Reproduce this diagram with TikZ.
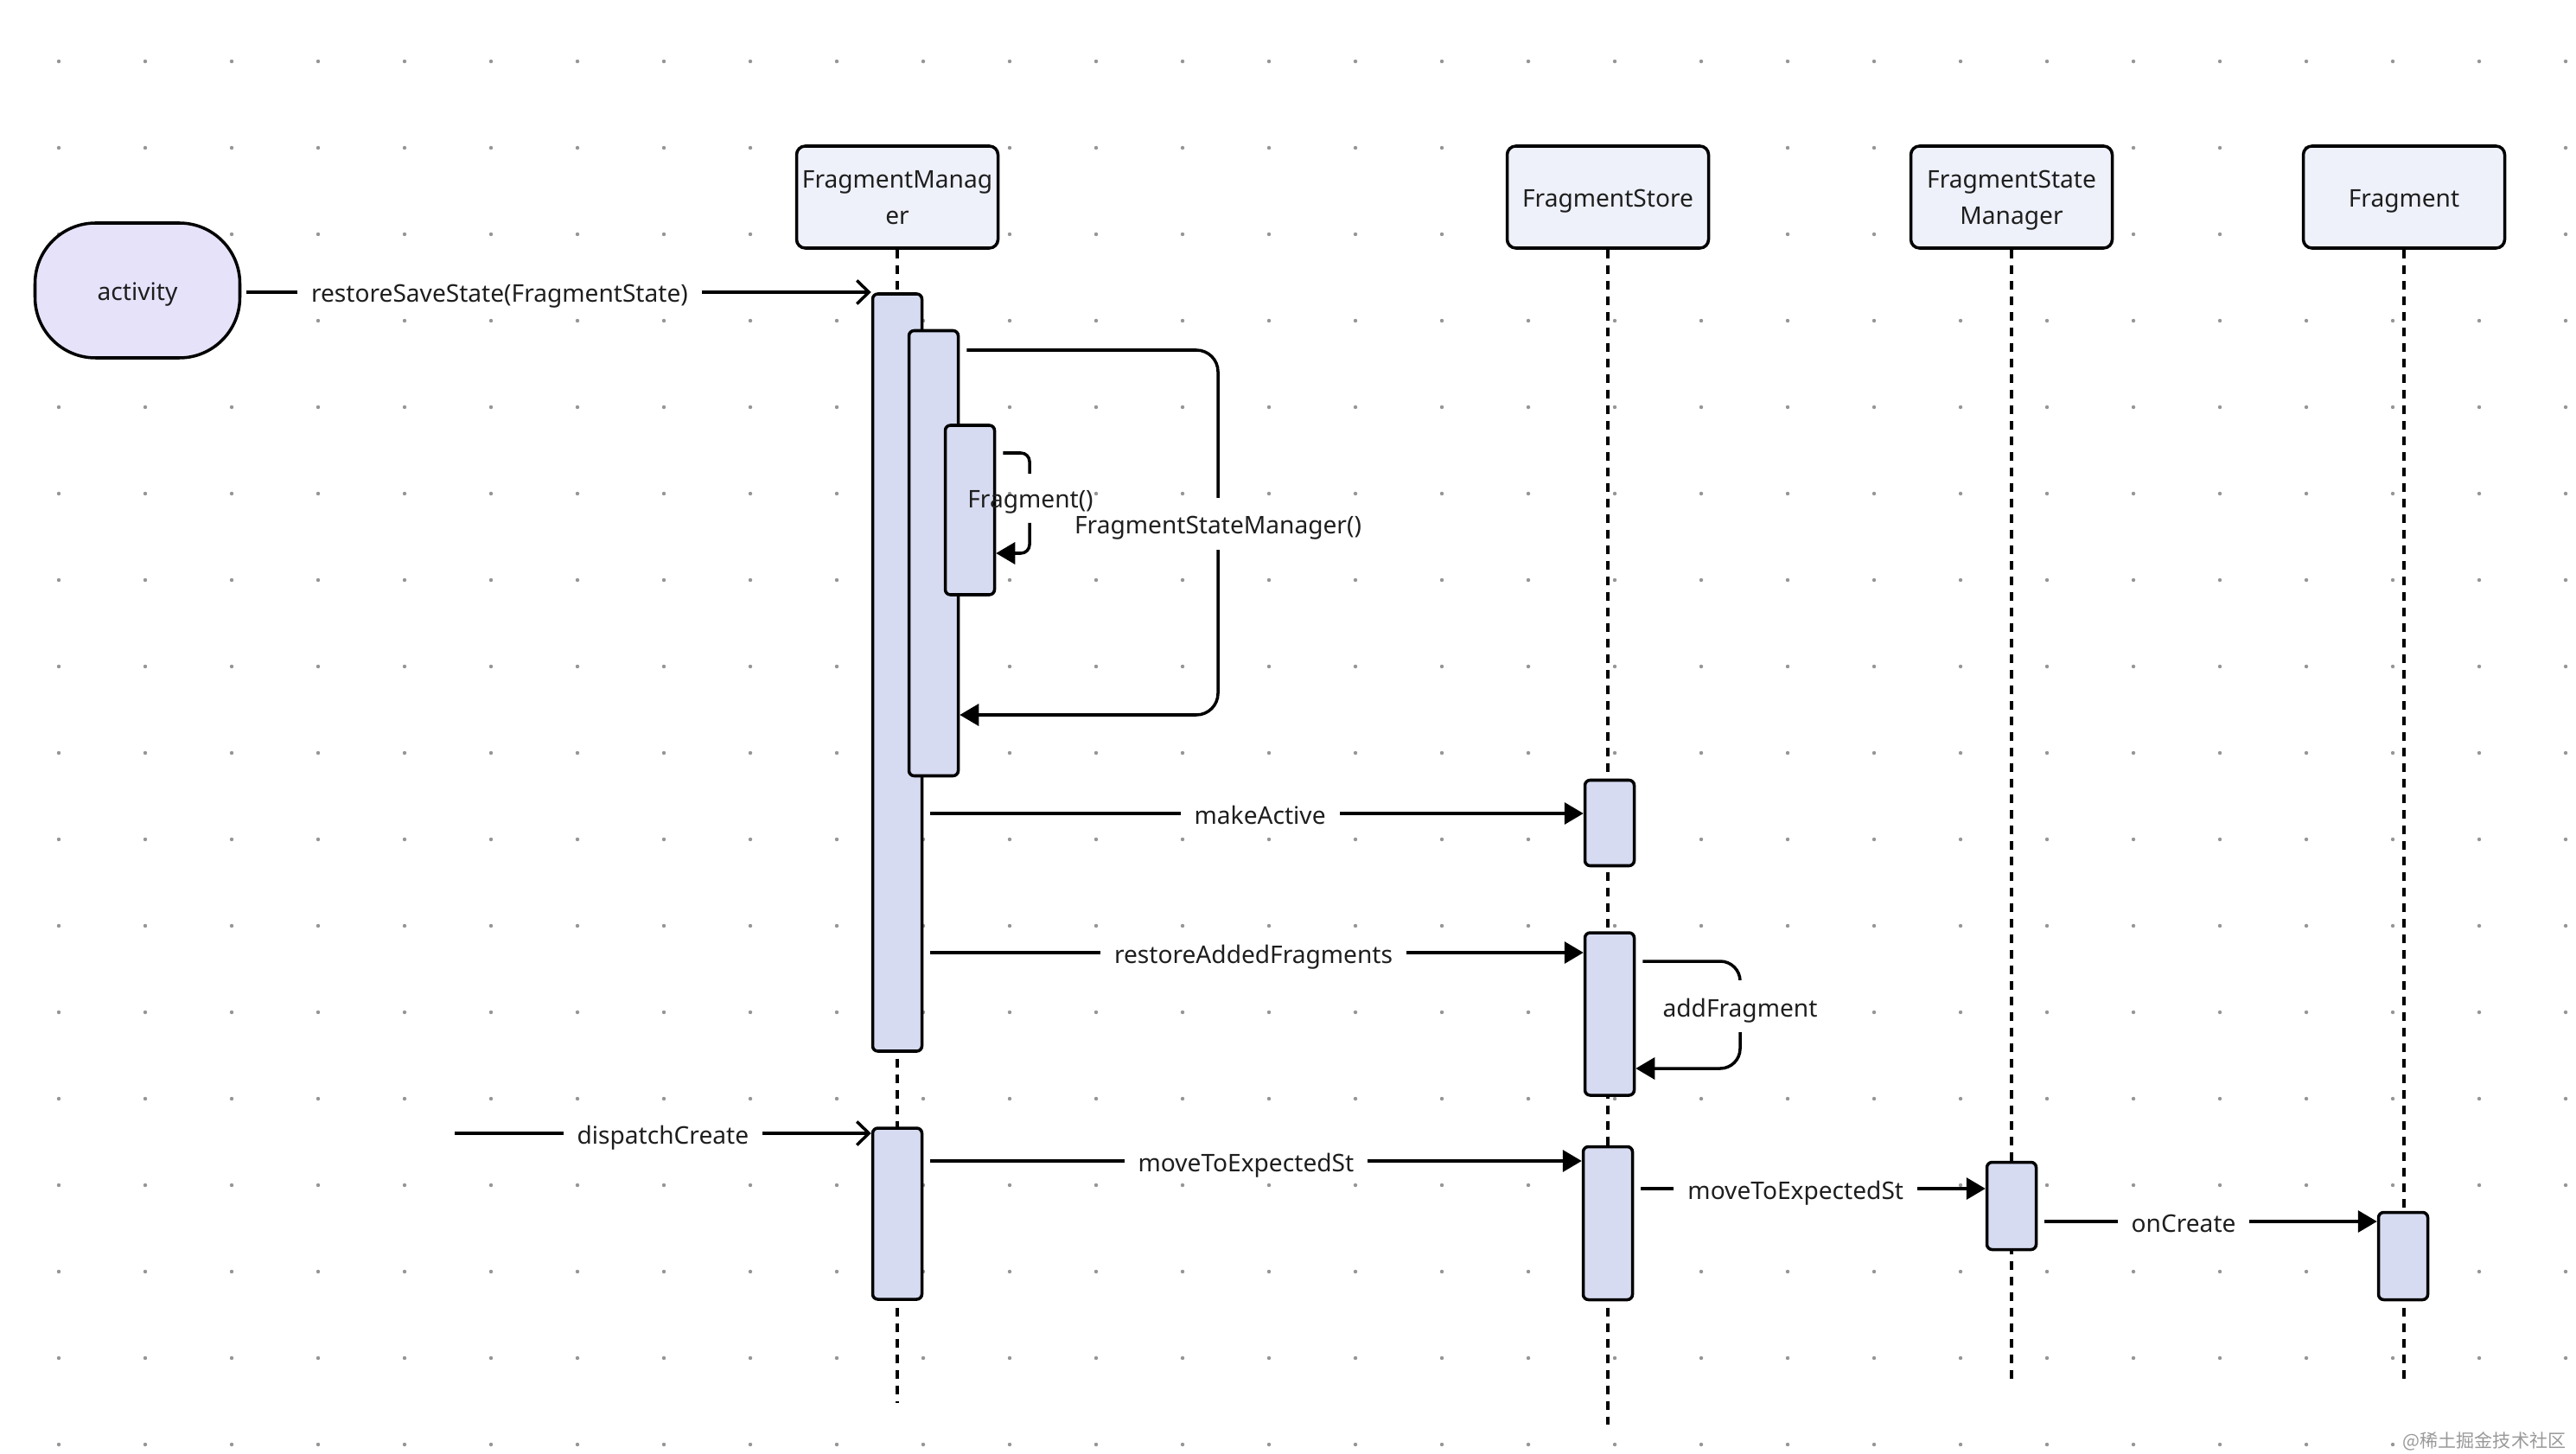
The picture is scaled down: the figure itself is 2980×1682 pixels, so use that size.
\documentclass[tikz,border=0pt]{standalone}
\usepackage{fontspec}
\setmainfont{Noto Sans}
\newfontfamily\cjkfont{Noto Sans CJK SC}
\usetikzlibrary{arrows.meta,positioning,calc}
\definecolor{actfill}{RGB}{214,219,241}
\definecolor{headfill}{RGB}{238,241,250}
\definecolor{actorfill}{RGB}{230,226,250}
\definecolor{gridgray}{RGB}{150,150,150}
\definecolor{inkdark}{RGB}{30,30,30}

\begin{document}
\begin{tikzpicture}[x=0.1mm,y=-0.1mm,
  every node/.style={font=\fontsize{8}{12}\selectfont, text=inkdark, text height=3.2mm, text depth=0.8mm},
  head/.style={draw, line width=1pt, fill=headfill, rounded corners=1mm, minimum width=23.3mm, minimum height=11.8mm, align=center, inner sep=0pt},
  twoline/.style={text height=7.4mm, text depth=1mm},
  actor/.style={draw, line width=1pt, fill=actorfill, rounded corners=7mm, minimum width=23.7mm, minimum height=15.6mm},
  act/.style={draw, line width=1pt, fill=actfill, rounded corners=0.6mm, minimum width=5.7mm, inner sep=0pt},
  life/.style={line width=0.9pt, dash pattern=on 1mm off 0.8mm},
  sync/.style={line width=1pt, -{Triangle[length=2.2mm,width=2.5mm]}},
  async/.style={line width=1pt, -{Straight Barb[length=1.4mm,width=2.7mm]}},
  lbl/.style={fill=white, inner xsep=1.6mm, inner ysep=0.3mm}]
% page and dot grid
\fill[white] (0,0) rectangle (2980,1682);
\useasboundingbox (0,0) rectangle (2980,1682);
\foreach \gx in {68,168,...,2968}
  \foreach \gy in {71,171,...,1671}
    \fill[gridgray] (\gx,\gy) circle (0.22mm);

% lifeline heads
\node[head, twoline] (fm) at (1038,228) {FragmentManag\\er};
\node[head] (fs) at (1860,228) {FragmentStore};
\node[head, twoline] (fsm) at (2327,228) {FragmentState\\Manager};
\node[head] (frag) at (2781,228) {Fragment};
% lifelines
\draw[life] (fm.south) -- (fm.south |- {0,1623});
\draw[life] (fs.south) -- (fs.south |- {0,1648});
\draw[life] (fsm.south) -- (fsm.south |- {0,1601});
\draw[life] (frag.south) -- (frag.south |- {0,1601});

% caller
\node[actor] (activity) at (159,336) {activity};

% activation bars
\node[act, minimum height=87.6mm] (fmA) at (1038,778) {};
\node[act, minimum height=51.5mm] (fmB) at (1080,640) {};
\node[act, minimum height=19.6mm] (fmC) at (1122,590) {};
\node[act, minimum height=9.9mm] (fsA) at (1862,952) {};
\node[act, minimum height=18.8mm] (fsB) at (1862,1173) {};
\node[act, minimum height=19.8mm] (fmD) at (1038,1404) {};
\node[act, minimum height=17.7mm] (fsC) at (1860,1415) {};
\node[act, minimum height=10.1mm] (fsmA) at (2327,1395) {};
\node[act, minimum height=10.1mm] (fragA) at (2780,1453) {};

% restore phase
\draw[async, shorten <=0.6mm] (activity.east |- {0,338}) -- node[lbl, pos=0.41] {restoreSaveState(FragmentState)} (fmA.north west |- {0,338});
\draw[sync, rounded corners=2.5mm, shorten <=0.8mm] (fmB.east |- {0,405}) -| (1409,827) -- (fmB.east |- {0,827});
\node[lbl, inner ysep=1mm] (fsmlbl) at (1409,606) {FragmentStateManager()};
\draw[line width=1pt, rounded corners=1mm, shorten <=0.8mm] (fmC.east |- {0,524}) -| (1191,548);
\node (fraglbl) at (1192,576) {Fragment()};
\draw[sync, rounded corners=1mm] (1191,605) |- (fmC.east |- {0,640});
\draw[sync, shorten <=0.8mm] (fmA.east |- {0,941}) -- node[lbl, pos=0.51] {makeActive} (fsA.west |- {0,941});
\draw[sync, shorten <=0.8mm] (fmA.east |- {0,1102}) -- node[lbl] {restoreAddedFragments} (fsB.west |- {0,1102});
\draw[sync, rounded corners=2.3mm, shorten <=0.8mm] (fsB.east |- {0,1112}) -| (2013,1236) -- (fsB.east |- {0,1236});
\node[lbl, inner ysep=1mm] (addlbl) at (2013,1164) {addFragment};

% create phase
\coordinate (dcStart) at (526,1311);
\draw[async] (dcStart) -- node[lbl] {dispatchCreate} (fmD.north west |- dcStart);
\draw[sync, shorten <=0.8mm] (fmD.east |- {0,1343}) -- node[lbl, pos=0.49] {moveToExpectedSt} (fsC.west |- {0,1343});
\draw[sync, shorten <=0.8mm] (fsC.east |- {0,1375}) -- node[lbl, pos=0.46] {moveToExpectedSt} (fsmA.west |- {0,1375});
\draw[sync, shorten <=0.8mm] (fsmA.east |- {0,1413}) -- node[lbl, pos=0.43] {onCreate} (fragA.west |- {0,1413});

\node[font=\cjkfont\fontsize{6}{7}\selectfont, text=gray!80, text height=, text depth=, fill=white, inner sep=0.5mm, anchor=east] (credit) at (2974,1667) {@稀土掘金技术社区};
\end{tikzpicture}
\end{document}
